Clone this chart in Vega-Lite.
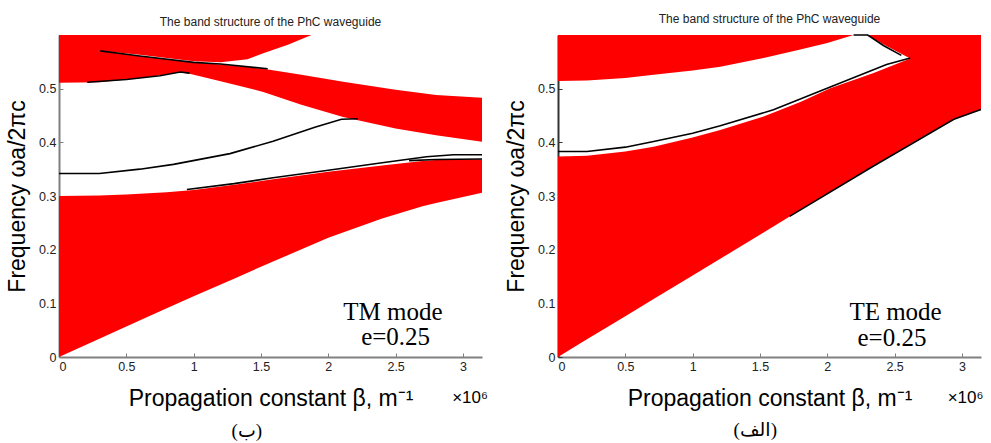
{
  "$schema": "https://vega.github.io/schema/vega-lite/v6.json",
  "background": "white",
  "padding": {"left": 6, "top": 12, "right": 0, "bottom": 0},
  "spacing": 76,
  "bounds": "flush",
  "config": {
    "view": {"stroke": null},
    "axis": {
      "grid": false,
      "labelFont": "Liberation Sans",
      "labelFontSize": 12.5,
      "labelColor": "#222222",
      "titleFont": "Liberation Sans",
      "titleFontSize": 23,
      "titleFontWeight": "normal",
      "titleColor": "#000000",
      "domainColor": "#808080",
      "domainWidth": 2,
      "tickColor": "#808080",
      "tickSize": -4,
      "labelPadding": 7
    },
    "title": {
      "font": "Liberation Sans",
      "fontSize": 12,
      "fontWeight": "normal",
      "color": "#222222",
      "anchor": "middle",
      "frame": "group",
      "offset": 6
    }
  },
  "datasets": {
    "tmBands": [
      {"band": "L", "b": 0, "lo": 0, "hi": 0.300},
      {"band": "L", "b": 0.3, "lo": 0.034, "hi": 0.301},
      {"band": "L", "b": 0.5, "lo": 0.057, "hi": 0.303},
      {"band": "L", "b": 0.8, "lo": 0.091, "hi": 0.307},
      {"band": "L", "b": 1.0, "lo": 0.113, "hi": 0.311},
      {"band": "L", "b": 1.3, "lo": 0.146, "hi": 0.321},
      {"band": "L", "b": 1.59, "lo": 0.178, "hi": 0.331},
      {"band": "L", "b": 2.0, "lo": 0.222, "hi": 0.345},
      {"band": "L", "b": 2.4, "lo": 0.258, "hi": 0.357},
      {"band": "L", "b": 2.7, "lo": 0.281, "hi": 0.365},
      {"band": "L", "b": 2.8, "lo": 0.287, "hi": 0.367},
      {"band": "L", "b": 3.0, "lo": 0.298, "hi": 0.368},
      {"band": "L", "b": 3.1416, "lo": 0.306, "hi": 0.368},
      {"band": "D", "b": 0, "lo": 0.511, "hi": 0.6},
      {"band": "D", "b": 0.305, "lo": 0.512, "hi": 0.6},
      {"band": "D", "b": 0.306, "lo": 0.512, "hi": 0.5705},
      {"band": "D", "b": 0.6, "lo": 0.520, "hi": 0.561},
      {"band": "D", "b": 0.9, "lo": 0.530, "hi": 0.552},
      {"band": "D", "b": 0.97, "lo": 0.528, "hi": 0.549},
      {"band": "D", "b": 1.2, "lo": 0.514, "hi": 0.545},
      {"band": "D", "b": 1.517, "lo": 0.494, "hi": 0.537},
      {"band": "D", "b": 1.8, "lo": 0.470, "hi": 0.526},
      {"band": "D", "b": 2.11, "lo": 0.447, "hi": 0.513},
      {"band": "D", "b": 2.5, "lo": 0.426, "hi": 0.498},
      {"band": "D", "b": 2.8, "lo": 0.413, "hi": 0.488},
      {"band": "D", "b": 3.1416, "lo": 0.401, "hi": 0.483},
      {"band": "C", "b": 0.25, "lo": 0.5705, "hi": 0.6},
      {"band": "C", "b": 0.306, "lo": 0.5705, "hi": 0.6},
      {"band": "C", "b": 0.6, "lo": 0.563, "hi": 0.6},
      {"band": "C", "b": 1.0, "lo": 0.551, "hi": 0.6},
      {"band": "C", "b": 1.2, "lo": 0.549, "hi": 0.6},
      {"band": "C", "b": 1.4, "lo": 0.555, "hi": 0.6},
      {"band": "C", "b": 1.517, "lo": 0.566, "hi": 0.6},
      {"band": "C", "b": 1.7, "lo": 0.582, "hi": 0.6},
      {"band": "C", "b": 1.875, "lo": 0.6, "hi": 0.6}
    ],
    "tmLines": [
      {"line": "t1", "b": 0.21, "f": 0.512},
      {"line": "t1", "b": 0.5, "f": 0.517},
      {"line": "t1", "b": 0.75, "f": 0.524},
      {"line": "t1", "b": 0.9, "f": 0.531},
      {"line": "t1", "b": 0.97, "f": 0.529},
      {"line": "t2", "b": 0.306, "f": 0.5705},
      {"line": "t2", "b": 0.6, "f": 0.561},
      {"line": "t2", "b": 1.0, "f": 0.549},
      {"line": "t2", "b": 1.2, "f": 0.546},
      {"line": "t2", "b": 1.55, "f": 0.537},
      {"line": "t3", "b": 0, "f": 0.342},
      {"line": "t3", "b": 0.3, "f": 0.342},
      {"line": "t3", "b": 0.6, "f": 0.350},
      {"line": "t3", "b": 0.85, "f": 0.359},
      {"line": "t3", "b": 1.27, "f": 0.379},
      {"line": "t3", "b": 1.59, "f": 0.402},
      {"line": "t3", "b": 1.9, "f": 0.428},
      {"line": "t3", "b": 2.098, "f": 0.443},
      {"line": "t3", "b": 2.22, "f": 0.444},
      {"line": "t4", "b": 0.95, "f": 0.312},
      {"line": "t4", "b": 1.3, "f": 0.323},
      {"line": "t4", "b": 1.59, "f": 0.334},
      {"line": "t4", "b": 2.0, "f": 0.348},
      {"line": "t4", "b": 2.4, "f": 0.362},
      {"line": "t4", "b": 2.73, "f": 0.373},
      {"line": "t4", "b": 2.93, "f": 0.377},
      {"line": "t4", "b": 3.1416, "f": 0.377},
      {"line": "t5", "b": 2.6, "f": 0.366},
      {"line": "t5", "b": 2.8, "f": 0.368},
      {"line": "t5", "b": 3.1416, "f": 0.369}
    ],
    "teBands": [
      {"band": "R2", "b": 0, "lo": 0, "hi": 0.3737},
      {"band": "R2", "b": 0.215, "lo": 0.033, "hi": 0.375},
      {"band": "R2", "b": 0.5, "lo": 0.076, "hi": 0.383},
      {"band": "R2", "b": 0.71, "lo": 0.108, "hi": 0.392},
      {"band": "R2", "b": 1.0, "lo": 0.152, "hi": 0.409},
      {"band": "R2", "b": 1.205, "lo": 0.183, "hi": 0.423},
      {"band": "R2", "b": 1.527, "lo": 0.232, "hi": 0.448},
      {"band": "R2", "b": 1.8, "lo": 0.274, "hi": 0.475},
      {"band": "R2", "b": 2.022, "lo": 0.307, "hi": 0.501},
      {"band": "R2", "b": 2.344, "lo": 0.356, "hi": 0.529},
      {"band": "R2", "b": 2.616, "lo": 0.397, "hi": 0.556},
      {"band": "R2", "b": 2.62, "lo": 0.398, "hi": 0.6},
      {"band": "R2", "b": 2.94, "lo": 0.442, "hi": 0.6},
      {"band": "R2", "b": 3.1416, "lo": 0.461, "hi": 0.6},
      {"band": "R1", "b": 0, "lo": 0.5145, "hi": 0.6},
      {"band": "R1", "b": 0.215, "lo": 0.515, "hi": 0.6},
      {"band": "R1", "b": 0.5, "lo": 0.52, "hi": 0.6},
      {"band": "R1", "b": 0.71, "lo": 0.526, "hi": 0.6},
      {"band": "R1", "b": 1.0, "lo": 0.534, "hi": 0.6},
      {"band": "R1", "b": 1.205, "lo": 0.541, "hi": 0.6},
      {"band": "R1", "b": 1.527, "lo": 0.557, "hi": 0.6},
      {"band": "R1", "b": 1.8, "lo": 0.573, "hi": 0.6},
      {"band": "R1", "b": 2.0, "lo": 0.585, "hi": 0.6},
      {"band": "R1", "b": 2.195, "lo": 0.6, "hi": 0.6},
      {"band": "R1", "b": 2.294, "lo": 0.6, "hi": 0.6},
      {"band": "R1", "b": 2.45, "lo": 0.578, "hi": 0.6},
      {"band": "R1", "b": 2.616, "lo": 0.556, "hi": 0.6},
      {"band": "R1", "b": 2.66, "lo": 0.556, "hi": 0.6}
    ],
    "teLines": [
      {"line": "a", "b": 0, "f": 0.383},
      {"line": "a", "b": 0.215, "f": 0.383},
      {"line": "a", "b": 0.5, "f": 0.391},
      {"line": "a", "b": 0.71, "f": 0.4017},
      {"line": "a", "b": 1.0, "f": 0.417},
      {"line": "a", "b": 1.205, "f": 0.431},
      {"line": "a", "b": 1.6, "f": 0.4605},
      {"line": "a", "b": 2.022, "f": 0.503},
      {"line": "a", "b": 2.44, "f": 0.545},
      {"line": "a", "b": 2.616, "f": 0.557},
      {"line": "b", "b": 2.195, "f": 0.6},
      {"line": "b", "b": 2.3, "f": 0.6},
      {"line": "b", "b": 2.42, "f": 0.58},
      {"line": "b", "b": 2.55, "f": 0.562},
      {"line": "c", "b": 1.72, "f": 0.262},
      {"line": "c", "b": 2.344, "f": 0.356},
      {"line": "c", "b": 2.94, "f": 0.443},
      {"line": "c", "b": 3.1416, "f": 0.461}
    ]
  },
  "hconcat": [
    {
      "width": 423,
      "height": 322,
      "title": {"text": "The band structure of the PhC waveguide"},
      "layer": [
        {
          "data": {"name": "tmBands"},
          "mark": {"type": "area", "color": "#ff0000", "opacity": 1},
          "encoding": {
            "x": {"field": "b", "type": "quantitative", "scale": {"domain": [0, 3.1416], "nice": false, "zero": false},
                  "axis": {"values": [0, 0.5, 1, 1.5, 2, 2.5, 3], "format": ".1~f", "title": "Propagation constant β, m⁻¹", "titlePadding": 15}},
            "y": {"field": "lo", "type": "quantitative", "scale": {"domain": [0, 0.6], "nice": false},
                  "axis": {"values": [0, 0.1, 0.2, 0.3, 0.4, 0.5], "format": ".1~f", "title": "Frequency ωa/2πc", "titlePadding": 9}},
            "y2": {"field": "hi"},
            "detail": {"field": "band", "type": "nominal"}
          }
        },
        {
          "data": {"name": "tmLines"},
          "mark": {"type": "line", "color": "#000000", "strokeWidth": 1.6},
          "encoding": {
            "x": {"field": "b", "type": "quantitative"},
            "y": {"field": "f", "type": "quantitative"},
            "detail": {"field": "line", "type": "nominal"}
          }
        },
        {
          "data": {"values": [{}]},
          "mark": {"type": "text", "font": "Liberation Serif", "fontSize": 25, "align": "center", "baseline": "alphabetic", "color": "#000000"},
          "encoding": {"x": {"datum": 2.48, "type": "quantitative"}, "y": {"datum": 0.0695, "type": "quantitative"}, "text": {"value": "TM mode"}}
        },
        {
          "data": {"values": [{}]},
          "mark": {"type": "text", "font": "Liberation Serif", "fontSize": 25, "align": "center", "baseline": "alphabetic", "color": "#000000"},
          "encoding": {"x": {"datum": 2.5, "type": "quantitative"}, "y": {"datum": 0.0217, "type": "quantitative"}, "text": {"value": "e=0.25"}}
        },
        {
          "data": {"values": [{}]},
          "mark": {"type": "text", "font": "Liberation Sans", "fontSize": 17, "align": "right", "baseline": "alphabetic", "color": "#000000"},
          "encoding": {"x": {"datum": 3.186, "type": "quantitative"}, "y": {"datum": -0.0855, "type": "quantitative"}, "text": {"value": "×10⁶"}}
        },
        {
          "data": {"values": [{}]},
          "mark": {"type": "text", "font": "Liberation Serif, DejaVu Sans", "fontSize": 19, "align": "center", "baseline": "alphabetic", "color": "#000000"},
          "encoding": {"x": {"datum": 1.395, "type": "quantitative"}, "y": {"datum": -0.149, "type": "quantitative"}, "text": {"value": "(ب)"}}
        }
      ]
    },
    {
      "width": 423,
      "height": 322,
      "title": {"text": "The band structure of the PhC waveguide"},
      "layer": [
        {
          "data": {"name": "teBands"},
          "mark": {"type": "area", "color": "#ff0000", "opacity": 1},
          "encoding": {
            "x": {"field": "b", "type": "quantitative", "scale": {"domain": [0, 3.1416], "nice": false, "zero": false},
                  "axis": {"values": [0, 0.5, 1, 1.5, 2, 2.5, 3], "format": ".1~f", "title": "Propagation constant β, m⁻¹", "titlePadding": 15}},
            "y": {"field": "lo", "type": "quantitative", "scale": {"domain": [0, 0.6], "nice": false},
                  "axis": {"values": [0, 0.1, 0.2, 0.3, 0.4, 0.5], "format": ".1~f", "title": "Frequency ωa/2πc", "titlePadding": 9, "domainColor": "#333333", "tickColor": "#333333"}},
            "y2": {"field": "hi"},
            "detail": {"field": "band", "type": "nominal"}
          }
        },
        {
          "data": {"name": "teLines"},
          "mark": {"type": "line", "color": "#000000", "strokeWidth": 1.6},
          "encoding": {
            "x": {"field": "b", "type": "quantitative"},
            "y": {"field": "f", "type": "quantitative"},
            "detail": {"field": "line", "type": "nominal"}
          }
        },
        {
          "data": {"values": [{}]},
          "mark": {"type": "text", "font": "Liberation Serif", "fontSize": 25, "align": "center", "baseline": "alphabetic", "color": "#000000"},
          "encoding": {"x": {"datum": 2.507, "type": "quantitative"}, "y": {"datum": 0.0695, "type": "quantitative"}, "text": {"value": "TE mode"}}
        },
        {
          "data": {"values": [{}]},
          "mark": {"type": "text", "font": "Liberation Serif", "fontSize": 25, "align": "center", "baseline": "alphabetic", "color": "#000000"},
          "encoding": {"x": {"datum": 2.48, "type": "quantitative"}, "y": {"datum": 0.02, "type": "quantitative"}, "text": {"value": "e=0.25"}}
        },
        {
          "data": {"values": [{}]},
          "mark": {"type": "text", "font": "Liberation Sans", "fontSize": 17, "align": "right", "baseline": "alphabetic", "color": "#000000"},
          "encoding": {"x": {"datum": 3.16, "type": "quantitative"}, "y": {"datum": -0.0857, "type": "quantitative"}, "text": {"value": "×10⁶"}}
        },
        {
          "data": {"values": [{}]},
          "mark": {"type": "text", "font": "Liberation Serif, DejaVu Sans", "fontSize": 19, "align": "center", "baseline": "alphabetic", "color": "#000000"},
          "encoding": {"x": {"datum": 1.465, "type": "quantitative"}, "y": {"datum": -0.147, "type": "quantitative"}, "text": {"value": "(الف)"}}
        }
      ]
    }
  ]
}
